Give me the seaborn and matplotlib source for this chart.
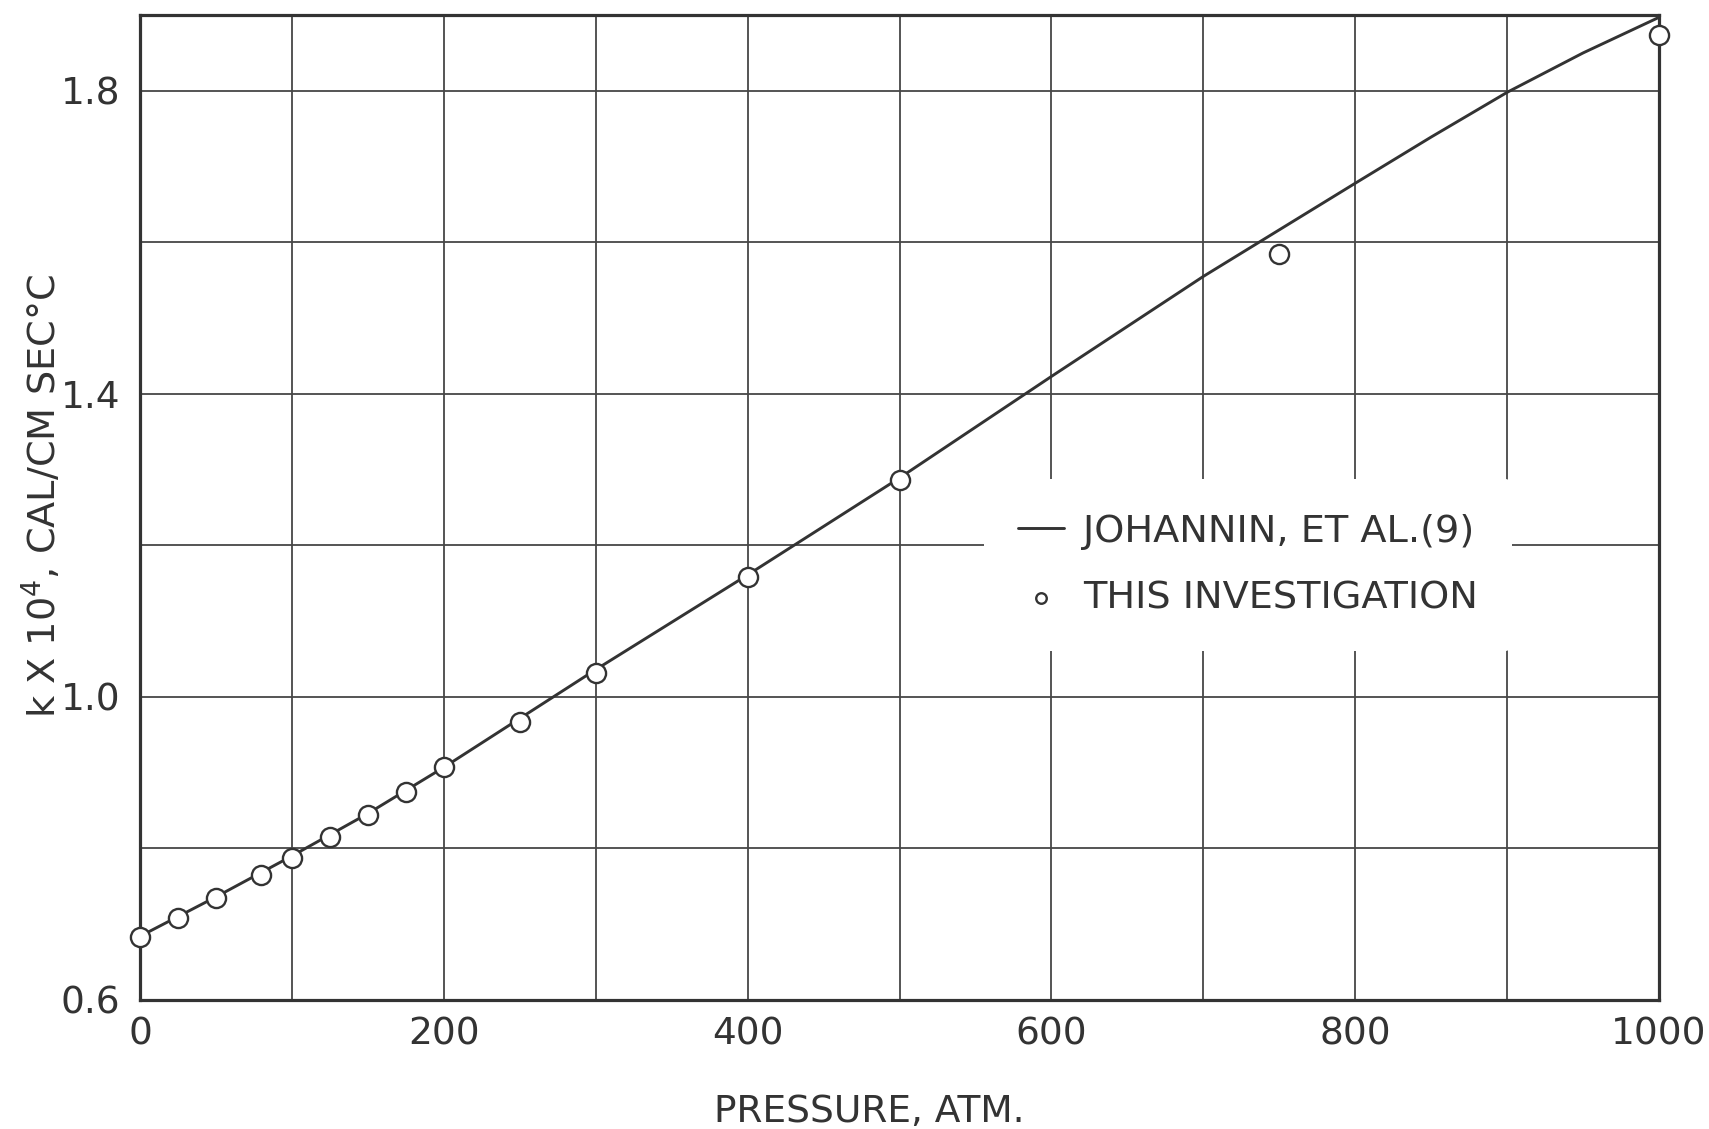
import numpy as np
import pandas as pd
import matplotlib
matplotlib.use("Agg")
import matplotlib.pyplot as plt
from matplotlib.ticker import FixedLocator
import seaborn as sns

# ---- data ----
curve_pressure = [0, 50, 100, 150, 200, 300, 400, 500, 600, 700, 800, 850, 900, 950, 1000]
curve_k = [0.684, 0.736, 0.790, 0.846, 0.907, 1.036, 1.161, 1.289, 1.423, 1.555,
           1.678, 1.739, 1.798, 1.850, 1.897]

point_pressure = [0, 25, 50, 80, 100, 125, 150, 175, 200, 250, 300, 400, 500, 750, 1000]
point_k = [0.683, 0.708, 0.735, 0.765, 0.788, 0.815, 0.844, 0.875, 0.907, 0.967,
           1.032, 1.158, 1.286, 1.584, 1.874]

x_major = [0, 200, 400, 600, 800, 1000]
x_major_labels = ["0", "200", "400", "600", "800", "1000"]
x_minor = [100, 300, 500, 700, 900]
y_major = [0.6, 1.0, 1.4, 1.8]
y_major_labels = ["0.6", "1.0", "1.4", "1.8"]
y_minor = [0.8, 1.2, 1.6]

curve_label = "JOHANNIN, ET AL.(9)"
point_label = "THIS INVESTIGATION"
x_title = "PRESSURE, ATM."
y_title = "k X 10$^{4}$, CAL/CM SEC°C"

# ---- style ----
sns.set_theme(style="white")
plt.rcParams["font.family"] = ["DejaVu Sans"]
ink = "#333333"
grid_ink = "#474747"

fig = plt.figure(figsize=(17.09, 11.29), dpi=100)
ax = fig.add_axes([0.0819, 0.1143, 0.9708 - 0.0819, 0.9867 - 0.1143])

curve_df = pd.DataFrame({"p": curve_pressure, "k": curve_k})
point_df = pd.DataFrame({"p": point_pressure, "k": point_k})

sns.lineplot(data=curve_df, x="p", y="k", ax=ax, color=ink, linewidth=2.1,
             label=curve_label, zorder=2)
sns.scatterplot(data=point_df, x="p", y="k", ax=ax, marker="o", s=190,
                color="white", edgecolor=ink, linewidth=1.7,
                label=point_label, zorder=3, clip_on=False)

ax.set_xlim(0, 1000)
ax.set_ylim(0.6, 1.9)

ax.xaxis.set_major_locator(FixedLocator(x_major))
ax.xaxis.set_minor_locator(FixedLocator(x_minor))
ax.yaxis.set_major_locator(FixedLocator(y_major))
ax.yaxis.set_minor_locator(FixedLocator(y_minor))
ax.set_xticklabels(x_major_labels)
ax.set_yticklabels(y_major_labels)

ax.grid(True, which="both", color=grid_ink, linewidth=1.3)
ax.set_axisbelow(True)

ax.tick_params(axis="both", which="both", length=0, labelsize=27, colors=ink)
ax.tick_params(axis="x", pad=12)
ax.tick_params(axis="y", pad=14)

for s in ax.spines.values():
    s.set_color(ink)
    s.set_linewidth(2.3)
    s.set_visible(True)

ax.set_xlabel(x_title, fontsize=27, color=ink)
ax.set_ylabel(y_title, fontsize=27.5, color=ink)
ax.xaxis.set_label_coords(0.48, -0.095)
ax.yaxis.set_label_coords(-0.05, 0.512)

leg = ax.legend(loc="center", bbox_to_anchor=(0.7303, 0.4995),
                bbox_transform=fig.transFigure, fontsize=27.5, frameon=True,
                facecolor="white", edgecolor="none", framealpha=1.0,
                handlelength=1.2, handletextpad=0.5, labelspacing=0.8,
                borderpad=0.9, markerscale=0.55)
for t in leg.get_texts():
    t.set_color(ink)

fig.savefig("out.png", dpi=100, facecolor="white")
